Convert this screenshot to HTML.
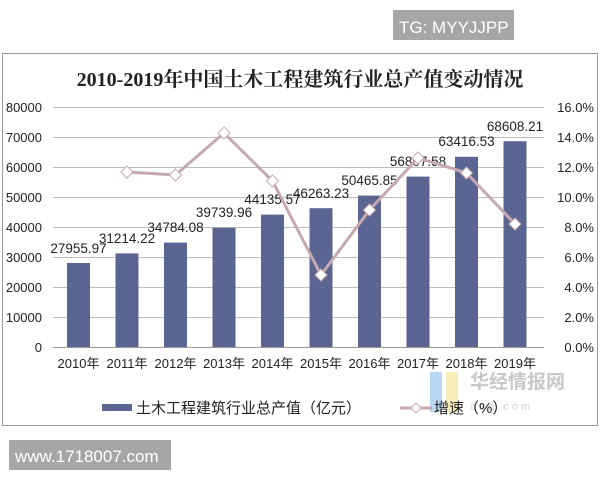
<!DOCTYPE html>
<html><head><meta charset="utf-8"><style>
body{margin:0;background:#fff;width:600px;height:480px;overflow:hidden}
text{font-family:"Liberation Sans","Noto Sans CJK SC",sans-serif}
</style></head><body>
<svg width="600" height="480" xmlns="http://www.w3.org/2000/svg">
<rect x="393" y="10" width="121" height="30" fill="#a6a6a6"/>
<text x="399" y="33" font-size="17" fill="#fff">TG: MYYJJPP</text>
<rect x="2.5" y="53.5" width="595" height="372" fill="#fff" stroke="#999" stroke-width="1"/>
<text x="300" y="86" font-size="20" font-weight="bold" text-anchor="middle" font-family="Liberation Serif,Noto Serif CJK SC,serif" fill="#222" style="font-family:'Liberation Serif','Noto Serif CJK SC',serif">2010-2019年中国土木工程建筑行业总产值变动情况</text>
<g stroke="#bdbdbd" stroke-width="1">
<line x1="53" y1="107.5" x2="544" y2="107.5"/><line x1="53" y1="137.5" x2="544" y2="137.5"/>
<line x1="53" y1="167.5" x2="544" y2="167.5"/><line x1="53" y1="197.5" x2="544" y2="197.5"/>
<line x1="53" y1="227.5" x2="544" y2="227.5"/><line x1="53" y1="257.5" x2="544" y2="257.5"/>
<line x1="53" y1="287.5" x2="544" y2="287.5"/><line x1="53" y1="317.5" x2="544" y2="317.5"/>
<line x1="53" y1="347.5" x2="544" y2="347.5" stroke="#999"/>
</g>
<g font-size="13" fill="#222" text-anchor="end">
<text x="42" y="112">80000</text><text x="42" y="142">70000</text><text x="42" y="172">60000</text>
<text x="42" y="202">50000</text><text x="42" y="232">40000</text><text x="42" y="262">30000</text>
<text x="42" y="292">20000</text><text x="42" y="322">10000</text><text x="42" y="352">0</text>
</g>
<g font-size="13" fill="#222" text-anchor="end">
<text x="594" y="112">16.0%</text><text x="594" y="142">14.0%</text><text x="594" y="172">12.0%</text>
<text x="594" y="202">10.0%</text><text x="594" y="232">8.0%</text><text x="594" y="262">6.0%</text>
<text x="594" y="292">4.0%</text><text x="594" y="322">2.0%</text><text x="594" y="352">0.0%</text>
</g>
<g fill="#5b6592">
<rect x="67" y="263" width="23" height="84"/>
<rect x="115.5" y="253.4" width="23" height="93.6"/>
<rect x="164" y="242.6" width="23" height="104.4"/>
<rect x="212.5" y="227.8" width="23" height="119.2"/>
<rect x="261" y="214.6" width="23" height="132.4"/>
<rect x="309.5" y="208.2" width="23" height="138.8"/>
<rect x="358" y="195.6" width="23" height="151.4"/>
<rect x="406.5" y="176.6" width="23" height="170.4"/>
<rect x="455" y="156.8" width="23" height="190.2"/>
<rect x="503.5" y="141.2" width="23" height="205.8"/>
</g>
<g font-size="13.5" fill="#222" text-anchor="middle">
<text x="78.5" y="253">27955.97</text><text x="127" y="243">31214.22</text>
<text x="175.5" y="232">34784.08</text><text x="224" y="217">39739.96</text>
<text x="272.5" y="204">44135.57</text><text x="321" y="198">46263.23</text>
<text x="369.5" y="185">50465.85</text><text x="418" y="166">56807.58</text>
<text x="466.5" y="146">63416.53</text><text x="515" y="131">68608.21</text>
</g>
<polyline fill="none" stroke="#c7a8b0" stroke-width="3" points="127,172 175.5,175 224,133 272.5,181 321,275 369.5,210 418,158 466.5,173 515,224"/>
<g fill="#fff" stroke="#c7a8b0" stroke-width="1">
<path d="M127,166 l6,6 l-6,6 l-6,-6z"/><path d="M175.5,169 l6,6 l-6,6 l-6,-6z"/>
<path d="M224,127 l6,6 l-6,6 l-6,-6z"/><path d="M272.5,175 l6,6 l-6,6 l-6,-6z"/>
<path d="M321,269 l6,6 l-6,6 l-6,-6z"/><path d="M369.5,204 l6,6 l-6,6 l-6,-6z"/>
<path d="M418,152 l6,6 l-6,6 l-6,-6z"/><path d="M466.5,167 l6,6 l-6,6 l-6,-6z"/>
<path d="M515,218 l6,6 l-6,6 l-6,-6z"/>
</g>
<g font-size="13" fill="#222" text-anchor="middle">
<text x="78.5" y="368">2010年</text><text x="127" y="368">2011年</text><text x="175.5" y="368">2012年</text>
<text x="224" y="368">2013年</text><text x="272.5" y="368">2014年</text><text x="321" y="368">2015年</text>
<text x="369.5" y="368">2016年</text><text x="418" y="368">2017年</text><text x="466.5" y="368">2018年</text>
<text x="515" y="368">2019年</text>
</g>
<rect x="430" y="372" width="12" height="40" fill="#a8cdf0" opacity="0.8"/>
<rect x="446" y="372" width="12" height="40" fill="#f5eaa8" opacity="0.8"/>
<text x="470" y="388" font-size="19" font-weight="bold" fill="#c8c8c8">华经情报网</text>
<text x="470" y="410" font-size="11" fill="#d0d0d0" letter-spacing="3">aon.com</text>
<rect x="102" y="404" width="30" height="7" fill="#5b6592"/>
<text x="136" y="413" font-size="15" fill="#222">土木工程建筑行业总产值（亿元）</text>
<line x1="400" y1="408" x2="432" y2="408" stroke="#c7a8b0" stroke-width="3"/>
<path d="M416,403 l5,5 l-5,5 l-5,-5z" fill="#fff" stroke="#c7a8b0"/>
<text x="434" y="413" font-size="15" fill="#222">增速（%）</text>
<rect x="9" y="440" width="162" height="30" fill="#a6a6a6"/>
<text x="15" y="462" font-size="17" fill="#fff">www.1718007.com</text>
</svg>
</body></html>
